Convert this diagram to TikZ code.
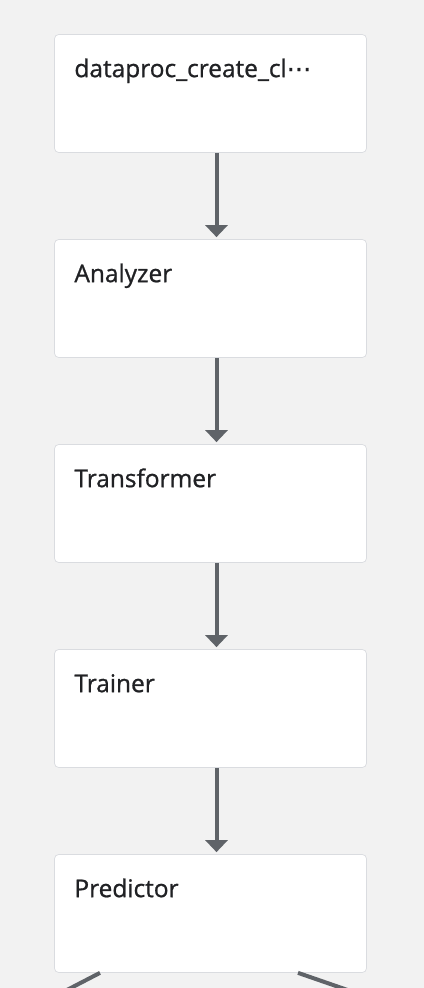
\documentclass[tikz,border=0pt]{standalone}
\usepackage{fontspec}
\setmainfont{Open Sans}
\newfontfamily\titlefont[FakeBold=0.9]{Open Sans}
\newfontfamily\symfont[FakeBold=0.9]{DejaVu Sans}
\usepackage{tikz}
\usetikzlibrary{arrows.meta,positioning,calc}
\usepackage{xcolor}
\definecolor{canvasgray}{RGB}{242,242,242}
\definecolor{boxborder}{RGB}{218,220,224}
\definecolor{edgegray}{RGB}{95,99,104}
\definecolor{textdark}{RGB}{32,33,36}

\begin{document}
\begin{tikzpicture}[
    stepbox/.style={rectangle, draw=boxborder, fill=white, line width=0.5pt, minimum width=7.8cm, minimum height=2.95cm, rounded corners=3pt, inner sep=0pt},
    title/.style={anchor=base west, inner sep=0pt, font=\titlefont\fontsize{17.4}{20}\selectfont, text=textdark},
    flow/.style={edgegray, line width=0.1cm, -{Triangle[width=0.55cm, length=0.3cm]}, shorten >=0.05cm},
    link/.style={edgegray, line width=0.1cm}
]
    % ---- canvas ----
    \fill[canvasgray] (0, 0) rectangle (10.6, 24.7);
    \clip (0, 0) rectangle (10.6, 24.7);

    % ---- steps ----
    \node[stepbox] (b1) at (5.2625, 22.3625) {};
    \node[stepbox] (b2) at (5.2625, 17.2375) {};
    \node[stepbox] (b3) at (5.2625, 12.1125) {};
    \node[stepbox] (b4) at (5.2625, 6.9875) {};
    \node[stepbox] (b5) at (5.2625, 1.8625) {};

    \node[title] (t1) at ([xshift=0.5cm, yshift=-1.075cm]b1.north west) {dataproc\_create\_cl{\symfont ⋯}};
    \node[title] (t2) at ([xshift=0.5cm, yshift=-1.075cm]b2.north west) {Analyzer};
    \node[title] (t3) at ([xshift=0.5cm, yshift=-1.075cm]b3.north west) {Transformer};
    \node[title] (t4) at ([xshift=0.5cm, yshift=-1.075cm]b4.north west) {Trainer};
    \node[title] (t5) at ([xshift=0.5cm, yshift=-1.075cm]b5.north west) {Predictor};

    % ---- edges ----
    \draw[flow] ([xshift=0.15cm]b1.south) -- ([xshift=0.15cm]b2.north);
    \draw[flow] ([xshift=0.15cm]b2.south) -- ([xshift=0.15cm]b3.north);
    \draw[flow] ([xshift=0.15cm]b3.south) -- ([xshift=0.15cm]b4.north);
    \draw[flow] ([xshift=0.15cm]b4.south) -- ([xshift=0.15cm]b5.north);

    % ---- edges leaving the view ----
    \coordinate (out1) at (1.0, -0.4);
    \coordinate (out2) at (9.7, -0.4);
    \draw[link] ([xshift=-2.7625cm]b5.south) -- (out1);
    \draw[link] ([xshift=2.1875cm]b5.south) -- (out2);
\end{tikzpicture}
\end{document}
